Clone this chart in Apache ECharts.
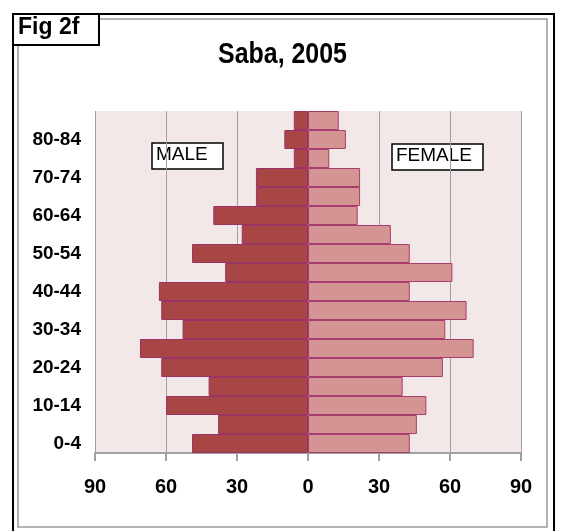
<!doctype html>
<html>
    <head>
        <meta charset="utf-8">
        <title>Saba, 2005</title>
        <style>
            html, body { margin: 0; padding: 0; background: #fff; }
            #main { width: 567px; height: 531px; }
        </style>
    </head>
    <body>
        <div id="main"></div>
        <script src="https://cdn.jsdelivr.net/npm/echarts@6/dist/echarts.min.js"></script>
        <script>
            var ageGroups = ['0-4', '5-9', '10-14', '15-19', '20-24', '25-29', '30-34', '35-39', '40-44',
                '45-49', '50-54', '55-59', '60-64', '65-69', '70-74', '75-79', '80-84', '85+'];
            var male = [49, 38, 60, 42, 62, 71, 53, 62, 63, 35, 49, 28, 40, 22, 22, 6, 10, 6];
            var female = [43, 46, 50, 40, 57, 70, 58, 67, 43, 61, 43, 35, 21, 22, 22, 9, 16, 13];
            var xTicks = [-90, -60, -30, 0, 30, 60, 90];

            var sans = '"Liberation Sans", Arial, sans-serif';
            var chart = echarts.init(document.getElementById('main'));

            chart.setOption({
                animation: false,
                grid: {
                    left: 95, right: 46, top: 111, bottom: 78,
                    show: true, backgroundColor: '#f2e8e8', borderWidth: 0
                },
                xAxis: {
                    type: 'value',
                    min: xTicks[0],
                    max: xTicks[xTicks.length - 1],
                    interval: 30,
                    axisLine: { show: true, lineStyle: { color: '#a0a0a0', width: 2 } },
                    axisTick: { show: true, length: 8, lineStyle: { color: '#a0a0a0', width: 2 } },
                    splitLine: { show: true, lineStyle: { color: '#a0a0a0', width: 1 } },
                    axisLabel: {
                        margin: 24,
                        fontFamily: sans, fontSize: 20, fontWeight: 'bold', color: '#000',
                        formatter: function (v) { return Math.abs(v); }
                    }
                },
                yAxis: {
                    type: 'category',
                    data: ageGroups,
                    axisLine: { show: false },
                    axisTick: { show: false },
                    axisLabel: {
                        interval: 1,
                        margin: 14,
                        fontFamily: sans, fontSize: 19, fontWeight: 'bold', color: '#000'
                    }
                },
                series: [{
                    name: 'MALE',
                    type: 'bar',
                    data: male.map(function (v) { return -v; }),
                    barGap: '-100%',
                    barCategoryGap: 0,
                    itemStyle: { color: '#a84545', borderColor: '#993366', borderWidth: 1 }
                }, {
                    name: 'FEMALE',
                    type: 'bar',
                    data: female,
                    barGap: '-100%',
                    barCategoryGap: 0,
                    itemStyle: { color: '#d49494', borderColor: '#a83c6c', borderWidth: 1 }
                }],
                graphic: [
                    // outer frame, double line
                    { type: 'rect', shape: { x: 13, y: 14, width: 541, height: 520 },
                      style: { fill: 'none', stroke: '#000', lineWidth: 2 } },
                    { type: 'rect', shape: { x: 18, y: 19, width: 529, height: 508 },
                      style: { fill: 'none', stroke: '#999', lineWidth: 1.5 } },
                    // title, condensed
                    { type: 'text', x: 282.5, y: 55, scaleX: 0.86,
                      style: { text: 'Saba, 2005', font: 'bold 29px ' + sans, fill: '#000',
                               align: 'center', verticalAlign: 'middle' } },
                    // figure tag
                    { type: 'rect', shape: { x: 13, y: 14, width: 86, height: 31 },
                      style: { fill: '#fff', stroke: '#000', lineWidth: 2 } },
                    { type: 'text', left: 18, top: 16,
                      style: { text: 'Fig 2f', font: 'bold 23px ' + sans, fill: '#000' } },
                    // series tags
                    { type: 'rect', shape: { x: 152, y: 143, width: 71, height: 26 },
                      style: { fill: '#fff', stroke: '#000', lineWidth: 1.5 } },
                    { type: 'text', left: 156, top: 145,
                      style: { text: 'MALE', font: '19px ' + sans, fill: '#000' } },
                    { type: 'rect', shape: { x: 392, y: 144, width: 91, height: 26 },
                      style: { fill: '#fff', stroke: '#000', lineWidth: 1.5 } },
                    { type: 'text', left: 396, top: 146,
                      style: { text: 'FEMALE', font: '19px ' + sans, fill: '#000' } }
                ]
            });

            window.addEventListener('resize', function () {
                chart.resize();
            });
        </script>
    </body>
</html>
